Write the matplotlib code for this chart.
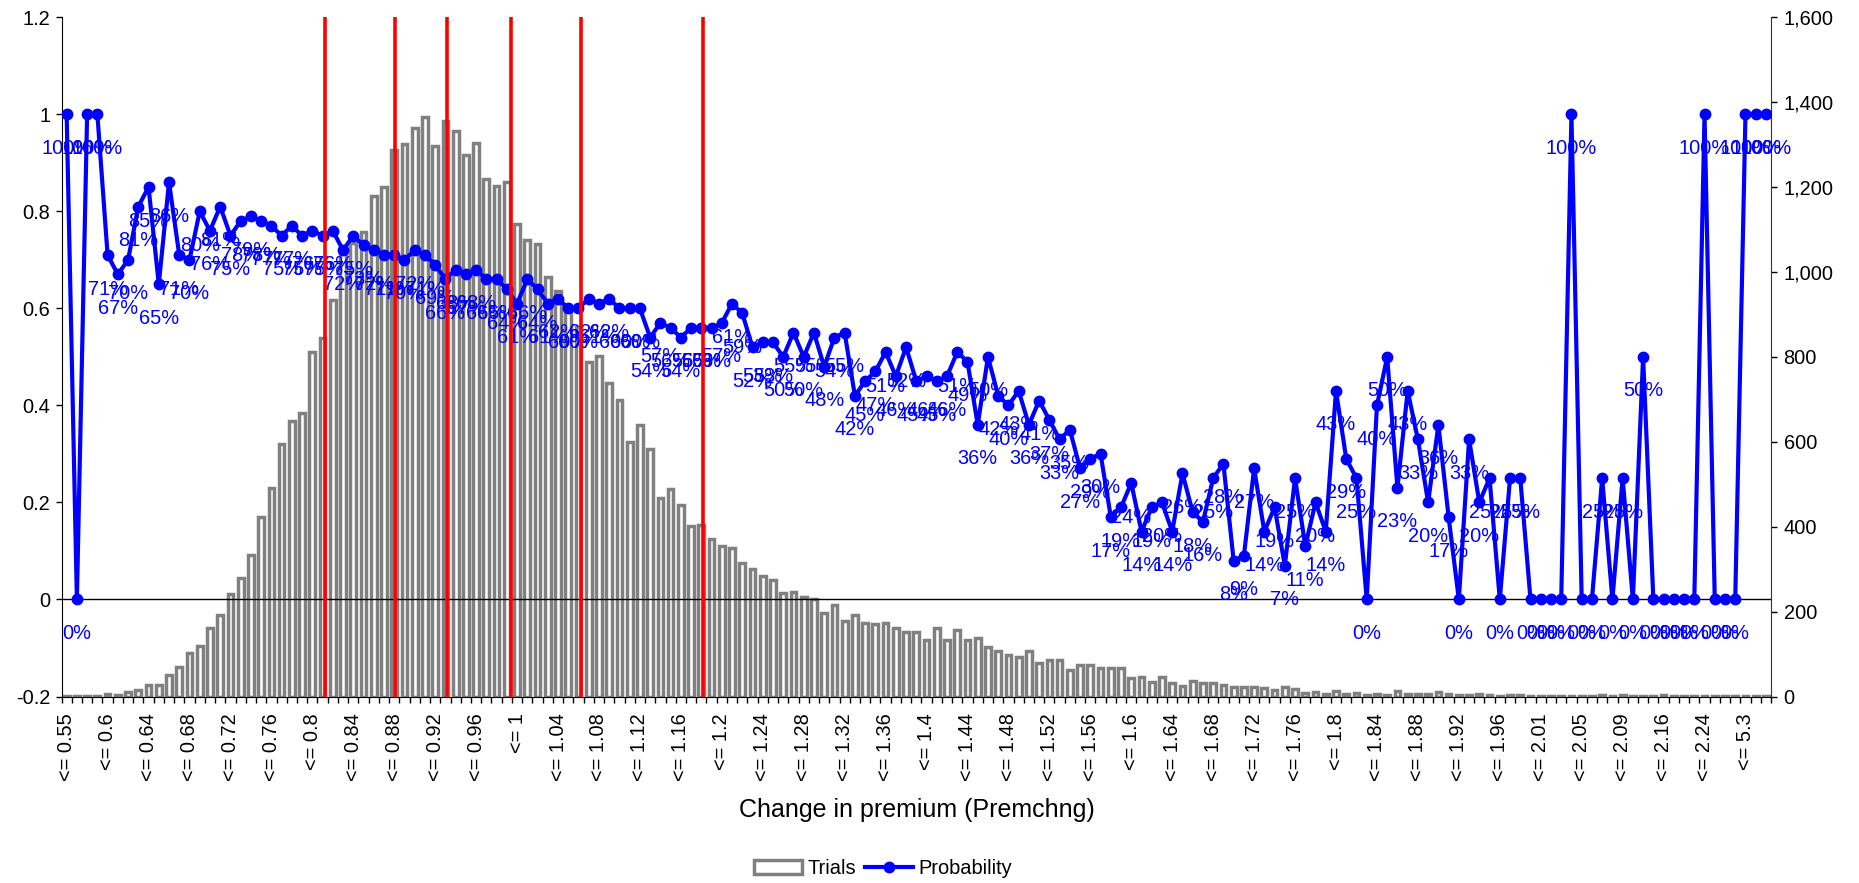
import numpy as np
import matplotlib.pyplot as plt
from matplotlib.patches import Patch
from matplotlib.lines import Line2D
from matplotlib.ticker import FuncFormatter, MultipleLocator

plt.rcParams['font.family'] = ['Liberation Sans', 'DejaVu Sans']

# category labels (one every 4th bin)
tick_labels = ["<= 0.55", "<= 0.6", "<= 0.64", "<= 0.68", "<= 0.72", "<= 0.76",
               "<= 0.8", "<= 0.84", "<= 0.88", "<= 0.92", "<= 0.96", "<= 1",
               "<= 1.04", "<= 1.08", "<= 1.12", "<= 1.16", "<= 1.2", "<= 1.24",
               "<= 1.28", "<= 1.32", "<= 1.36", "<= 1.4", "<= 1.44", "<= 1.48",
               "<= 1.52", "<= 1.56", "<= 1.6", "<= 1.64", "<= 1.68", "<= 1.72",
               "<= 1.76", "<= 1.8", "<= 1.84", "<= 1.88", "<= 1.92", "<= 1.96",
               "<= 2.01", "<= 2.05", "<= 2.09", "<= 2.16", "<= 2.24", "<= 5.3"]

# histogram counts per bin (right axis)
trials = [1, 1, 1, 1, 7, 3, 10, 16, 26, 26,
          51, 70, 102, 119, 161, 192, 241, 278, 333, 424,
          491, 595, 649, 668, 811, 844, 933, 1044, 1068, 1095,
          1178, 1201, 1288, 1302, 1339, 1364, 1298, 1356, 1332, 1275,
          1305, 1219, 1202, 1211, 1112, 1075, 1066, 988, 956, 910,
          870, 788, 802, 739, 698, 599, 640, 582, 468, 490,
          451, 401, 404, 372, 355, 350, 315, 300, 284, 274,
          243, 246, 234, 229, 197, 215, 179, 191, 174, 170,
          174, 161, 152, 152, 134, 161, 134, 156, 134, 138,
          116, 107, 97, 92, 107, 80, 85, 85, 62, 75,
          75, 66, 66, 66, 44, 47, 35, 47, 33, 25,
          37, 32, 33, 27, 23, 23, 23, 19, 15, 23,
          17, 9, 10, 7, 14, 7, 8, 3, 5, 4,
          13, 7, 6, 5, 11, 6, 3, 3, 5, 4,
          2, 4, 4, 1, 1, 1, 1, 1, 1, 1,
          4, 1, 4, 1, 2, 1, 3, 1, 1, 1,
          1, 1, 1, 1, 1, 1, 1]

# probability per bin, percent (left axis)
probability = [100, 0, 100, 100, 71, 67, 70, 81, 85, 65,
               86, 71, 70, 80, 76, 81, 75, 78, 79, 78,
               77, 75, 77, 75, 76, 75, 76, 72, 75, 73,
               72, 71, 71, 70, 72, 71, 69, 66, 68, 67,
               68, 66, 66, 64, 61, 66, 64, 61, 62, 60,
               60, 62, 61, 62, 60, 60, 60, 54, 57, 56,
               54, 56, 56, 56, 57, 61, 59, 52, 53, 53,
               50, 55, 50, 55, 48, 54, 55, 42, 45, 47,
               51, 46, 52, 45, 46, 45, 46, 51, 49, 36,
               50, 42, 40, 43, 36, 41, 37, 33, 35, 27,
               29, 30, 17, 19, 24, 14, 19, 20, 14, 26,
               18, 16, 25, 28, 8, 9, 27, 14, 19, 7,
               25, 11, 20, 14, 43, 29, 25, 0, 40, 50,
               23, 43, 33, 20, 36, 17, 0, 33, 20, 25,
               0, 25, 25, 0, 0, 0, 0, 100, 0, 0,
               25, 0, 25, 0, 50, 0, 0, 0, 0, 0,
               100, 0, 0, 0, 100, 100, 100]

# red reference lines, in bin units
ref_bins = [25.2, 32.1, 37.2, 43.4, 50.2, 62.2]

n = len(trials)
x = np.arange(n)
p = np.array(probability) / 100.0

fig = plt.figure(figsize=(18.59, 8.83), dpi=100)
ax = fig.add_axes([0.0331, 0.2112, 0.9196, 0.7692])
axb = ax.twinx()
ax.set_zorder(axb.get_zorder() + 1)
ax.patch.set_visible(False)

axb.bar(x, trials, width=0.56, color='white', edgecolor='#808080', linewidth=2.5)
axb.set_ylim(0, 1600)
axb.yaxis.set_major_locator(MultipleLocator(200))
axb.yaxis.set_major_formatter(FuncFormatter(lambda v, pos: f'{int(v):,}'))

ax.plot(x, p, color='blue', lw=3, marker='o', ms=7.5, zorder=3)
for xi, pi, pct in zip(x, p, probability):
    ax.annotate(f'{pct}%', (xi, pi), xytext=(0, -24.5), textcoords='offset points',
                ha='center', va='center', color='blue', fontsize=14.4, zorder=4)
ax.axhline(0, color='black', lw=1, zorder=2)
for b in ref_bins:
    ax.axvline(b, color='red', lw=2.6, zorder=6)

ax.set_xlim(-0.5, n - 0.5)
ax.set_ylim(-0.2, 1.2)
ax.yaxis.set_major_locator(MultipleLocator(0.2))
ax.yaxis.set_major_formatter(FuncFormatter(lambda v, pos: f'{round(v, 1) + 0:g}'))

ax.set_xticks(x[::4])
ax.set_xticklabels(tick_labels, rotation=90, fontsize=14.4)
ax.set_xticks(np.arange(-0.5, n, 1), minor=True)
ax.tick_params(axis='x', which='major', length=0, pad=12)
ax.tick_params(axis='x', which='minor', length=4, width=1, direction='out')
ax.tick_params(axis='y', length=4, width=1, labelsize=14.4, pad=4)
axb.tick_params(axis='y', length=4, width=1, labelsize=14.4, pad=5)

for s in ['top', 'right']:
    ax.spines[s].set_visible(False)
for s in ['top', 'left', 'bottom']:
    axb.spines[s].set_visible(False)
ax.spines['left'].set_color('black')
ax.spines['bottom'].set_color('black')
axb.spines['right'].set_color('#333333')

fig.text(0.493, 0.083, 'Change in premium (Premchng)', ha='center', va='center', fontsize=18)

handles = [Patch(facecolor='white', edgecolor='#808080', linewidth=2.5, label='Trials'),
           Line2D([], [], color='blue', lw=3, marker='o', ms=7.5, label='Probability')]
fig.legend(handles=handles, loc='center', bbox_to_anchor=(0.475, 0.016), ncol=2,
           frameon=False, fontsize=14.4, handlelength=2.4, handletextpad=0.3,
           columnspacing=0.4)

fig.savefig('out.png', dpi=100)
